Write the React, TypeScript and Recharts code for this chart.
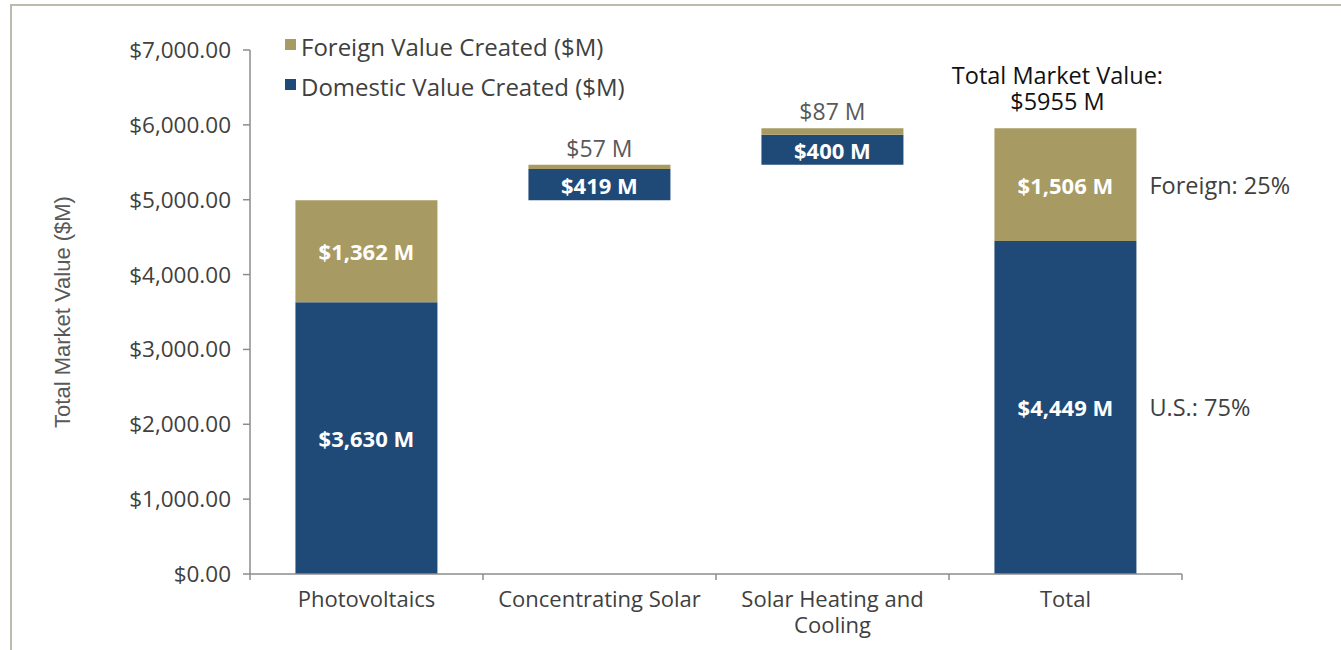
import { BarChart, Bar, XAxis, YAxis, LabelList } from "recharts";

const categories = ["Photovoltaics", "Concentrating Solar", "Solar Heating and Cooling", "Total"];
const domesticValues = [3630, 419, 400, 4449];
const foreignValues = [1362, 57, 87, 1506];
const yTicks = [0, 1000, 2000, 3000, 4000, 5000, 6000, 7000];

const TAN = "#a79a62";
const NAVY = "#1f4a77";
const FONT = "'Open Sans', sans-serif";

const W = 1341;
const H = 650;
const LEFT = 250;
const RIGHT = 159;
const BAND = (W - LEFT - RIGHT) / categories.length;

const lastIdx = categories.length - 1;
const totalValue = domesticValues[lastIdx] + foreignValues[lastIdx];

// waterfall: each part starts where the previous one ended, the total starts at zero
let running = 0;
const chartData = categories.map((name, i) => {
  const base = i === lastIdx ? 0 : running;
  running += domesticValues[i] + foreignValues[i];
  return { name, base, domestic: domesticValues[i], foreign: foreignValues[i] };
});

const money = (v: number) => `$${v.toLocaleString("en-US")} M`;

// greedy word wrap, measured with a canvas
const wrapWords = (label: string, maxWidth: number) => {
  const ctx = document.createElement("canvas").getContext("2d");
  if (!ctx) return [label];
  ctx.font = `22px ${FONT}`;
  const lines: string[] = [];
  let line = "";
  label.split(" ").forEach((word) => {
    const test = line ? `${line} ${word}` : word;
    if (line && ctx.measureText(test).width > maxWidth) {
      lines.push(line);
      line = word;
    } else {
      line = test;
    }
  });
  if (line) lines.push(line);
  return lines;
};

const XTick = (props: any) => {
  const { x, y, payload, index } = props;
  const lines = wrapWords(payload.value, 222);
  return (
    <g>
      <line x1={x - BAND / 2} y1={y} x2={x - BAND / 2} y2={y + 6} stroke="#8c8c8c" strokeWidth={1.5} />
      {index === lastIdx && (
        <line x1={x + BAND / 2} y1={y} x2={x + BAND / 2} y2={y + 6} stroke="#8c8c8c" strokeWidth={1.5} />
      )}
      <text textAnchor="middle" fill="#404040" fontSize={22} fontFamily={FONT}>
        {lines.map((l, i) => (
          <tspan key={i} x={x} y={y + 33 + i * 26}>
            {l}
          </tspan>
        ))}
      </text>
    </g>
  );
};

const DomesticLabel = (props: any) => {
  const { x, y, width, height, value, index } = props;
  const cx = x + width / 2;
  const cy = y + height / 2;
  return (
    <g>
      <text x={cx} y={cy} textAnchor="middle" dominantBaseline="central" fill="#fff" fontWeight={700} fontSize={22} fontFamily={FONT}>
        {money(value)}
      </text>
      {index === lastIdx && (
        <text x={x + width + 13} y={cy} dominantBaseline="central" fill="#404040" fontSize={23.5} fontFamily={FONT}>
          {`U.S.: ${Math.round((value / totalValue) * 100)}%`}
        </text>
      )}
    </g>
  );
};

const ForeignLabel = (props: any) => {
  const { x, y, width, height, value, index } = props;
  const cx = x + width / 2;
  const cy = y + height / 2;
  if (height < 24) {
    return (
      <text x={cx} y={y - 8} textAnchor="middle" fill="#595959" fontSize={23} fontFamily={FONT}>
        {`$${value} M`}
      </text>
    );
  }
  return (
    <g>
      <text x={cx} y={cy} textAnchor="middle" dominantBaseline="central" fill="#fff" fontWeight={700} fontSize={22} fontFamily={FONT}>
        {money(value)}
      </text>
      {index === lastIdx && (
        <g>
          <text x={x + width + 13} y={cy} dominantBaseline="central" fill="#404040" fontSize={23.5} fontFamily={FONT}>
            {`Foreign: ${Math.round((value / totalValue) * 100)}%`}
          </text>
          <text x={cx - 8} y={y - 44} textAnchor="middle" fill="#111" fontSize={23.5} fontFamily={FONT}>
            Total Market Value:
          </text>
          <text x={cx - 8} y={y - 18} textAnchor="middle" fill="#111" fontSize={23.5} fontFamily={FONT}>
            {`$${totalValue} M`}
          </text>
        </g>
      )}
    </g>
  );
};

const legendItems = [
  { label: "Foreign Value Created ($M)", color: TAN },
  { label: "Domestic Value Created ($M)", color: NAVY },
];

const YTitle = (props: any) => {
  const { viewBox } = props;
  const cx = viewBox.x + 62;
  const cy = viewBox.y + viewBox.height / 2;
  return (
    <text
      transform={`translate(${cx},${cy}) rotate(-90)`}
      textAnchor="middle"
      dominantBaseline="central"
      fill="#595959"
      fontSize={22}
      fontFamily="'Liberation Sans', Arial, sans-serif"
    >
      Total Market Value ($M)
    </text>
  );
};

export default function App() {
  return (
    <div style={{ position: "absolute", left: 0, top: 0, width: W, height: H, background: "#fff" }}>
      <div
        style={{
          position: "absolute",
          left: 10,
          top: 4,
          right: 0,
          bottom: 0,
          borderLeft: "2px solid #bdbbad",
          borderTop: "2px solid #bdbbad",
        }}
      />
      <BarChart
        width={W}
        height={H}
        data={chartData}
        margin={{ top: 50, right: RIGHT, bottom: 16, left: 0 }}
        barCategoryGap="19.5%"
        style={{ position: "absolute", left: 0, top: 0 }}
      >
        <XAxis
          dataKey="name"
          height={60}
          interval={0}
          tickLine={false}
          tickSize={0}
          tickMargin={0}
          axisLine={{ stroke: "#8c8c8c", strokeWidth: 1.5 }}
          tick={<XTick />}
        />
        <YAxis
          width={LEFT}
          domain={[0, 7000]}
          ticks={yTicks}
          interval={0}
          tickSize={7}
          tickMargin={12}
          axisLine={{ stroke: "#8c8c8c", strokeWidth: 1.5 }}
          tickLine={{ stroke: "#8c8c8c", strokeWidth: 1.5 }}
          tick={{ fill: "#404040", fontSize: 22.5, fontFamily: FONT }}
          tickFormatter={(v: number) =>
            `$${v.toLocaleString("en-US", { minimumFractionDigits: 2, maximumFractionDigits: 2 })}`
          }
          label={<YTitle />}
        />
        <Bar dataKey="base" stackId="a" fill="transparent" isAnimationActive={false} legendType="none" />
        <Bar dataKey="domestic" stackId="a" fill={NAVY} isAnimationActive={false}>
          <LabelList dataKey="domestic" content={<DomesticLabel />} />
        </Bar>
        <Bar dataKey="foreign" stackId="a" fill={TAN} isAnimationActive={false}>
          <LabelList dataKey="foreign" content={<ForeignLabel />} />
        </Bar>
      </BarChart>
      <div
        style={{
          position: "absolute",
          left: 285,
          top: 26,
          fontFamily: FONT,
          fontSize: 24,
          color: "#404040",
        }}
      >
        {legendItems.map((item) => (
          <div key={item.label} style={{ display: "flex", alignItems: "center", height: 40 }}>
            <span
              style={{
                width: 11,
                height: 11,
                backgroundColor: item.color,
                display: "inline-block",
                marginRight: 5,
                marginTop: -4,
              }}
            />
            <span>{item.label}</span>
          </div>
        ))}
      </div>
    </div>
  );
}
